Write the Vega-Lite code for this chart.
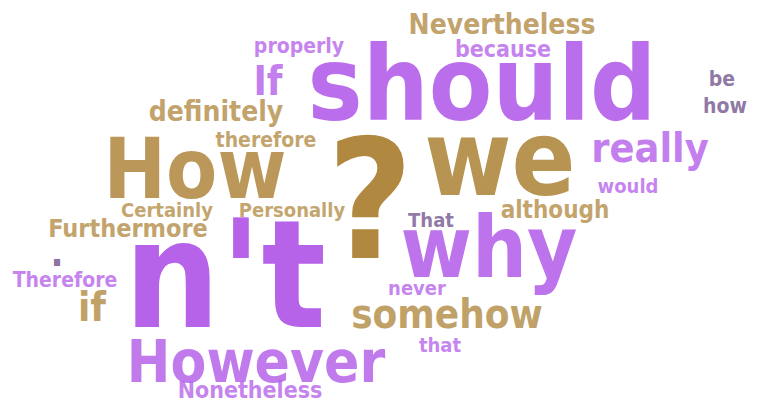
{
  "$schema": "https://vega.github.io/schema/vega-lite/v6.json",
  "description": "Word cloud of hedging words and question words.",
  "width": 757,
  "height": 408,
  "autosize": {"type": "fit", "contains": "padding"},
  "padding": 0,
  "background": "white",
  "config": {"view": {"stroke": null}},
  "data": {
    "values": [
      {"word": "should", "x": 482, "y": 120, "count": 103, "group": "purple"},
      {"word": "n't", "x": 225, "y": 327, "count": 150, "group": "purple"},
      {"word": "?", "x": 370, "y": 258, "count": 165, "group": "gold"},
      {"word": "How", "x": 195, "y": 198, "count": 83, "group": "gold"},
      {"word": "we", "x": 500, "y": 195, "count": 105, "group": "gold"},
      {"word": "why", "x": 489, "y": 277, "count": 86, "group": "purple"},
      {"word": "However", "x": 256, "y": 382, "count": 58, "group": "purple"},
      {"word": "really", "x": 650, "y": 162, "count": 41, "group": "purple"},
      {"word": "If", "x": 268, "y": 95, "count": 40, "group": "purple"},
      {"word": "if", "x": 92, "y": 321, "count": 40, "group": "gold"},
      {"word": "somehow", "x": 447, "y": 328, "count": 40, "group": "gold"},
      {"word": "definitely", "x": 216, "y": 121, "count": 28, "group": "gold"},
      {"word": "Nevertheless", "x": 502, "y": 34, "count": 28, "group": "gold"},
      {"word": "because", "x": 503, "y": 57, "count": 23, "group": "purple"},
      {"word": "properly", "x": 299, "y": 53, "count": 21, "group": "purple"},
      {"word": "Furthermore", "x": 128, "y": 237, "count": 25, "group": "gold"},
      {"word": "although", "x": 555, "y": 218, "count": 24, "group": "gold"},
      {"word": "Therefore", "x": 65, "y": 287, "count": 21, "group": "purple"},
      {"word": "Nonetheless", "x": 250, "y": 398, "count": 23, "group": "purple"},
      {"word": "be", "x": 722, "y": 86, "count": 21, "group": "grey"},
      {"word": "how", "x": 725, "y": 113, "count": 21, "group": "grey"},
      {"word": "would", "x": 628, "y": 193, "count": 20, "group": "purple"},
      {"word": "never", "x": 417, "y": 295, "count": 20, "group": "purple"},
      {"word": "therefore", "x": 266, "y": 147, "count": 21, "group": "gold"},
      {"word": "Certainly", "x": 167, "y": 217, "count": 20, "group": "gold"},
      {"word": "Personally", "x": 292, "y": 217, "count": 20, "group": "gold"},
      {"word": "That", "x": 431, "y": 227, "count": 20, "group": "grey"},
      {"word": "that", "x": 440, "y": 352, "count": 20, "group": "purple"},
      {"word": ".", "x": 57, "y": 266, "count": 38, "group": "grey"}
    ]
  },
  "mark": {
    "type": "text",
    "font": "DejaVu Sans Condensed",
    "fontWeight": "bold",
    "align": "center",
    "baseline": "alphabetic"
  },
  "encoding": {
    "x": {"field": "x", "type": "quantitative", "axis": null, "scale": {"domain": [0, 757], "nice": false, "zero": false}},
    "y": {"field": "y", "type": "quantitative", "axis": null, "scale": {"domain": [0, 408], "nice": false, "zero": false, "reverse": true}},
    "text": {"field": "word"},
    "size": {"field": "count", "type": "quantitative", "legend": null, "scale": {"type": "linear", "domain": [0, 165], "range": [0, 165]}},
    "color": {
      "field": "group", "type": "nominal", "legend": null,
      "scale": {"domain": ["purple", "gold", "grey"], "range": ["#b45ee9", "#b0883f", "#6e4f8a"]}
    },
    "opacity": {"field": "count", "type": "quantitative", "legend": null, "scale": {"domain": [18, 165], "range": [0.75, 1]}},
    "tooltip": [
      {"field": "word", "type": "nominal", "title": "Word"},
      {"field": "count", "type": "quantitative", "title": "Weight"}
    ]
  }
}
